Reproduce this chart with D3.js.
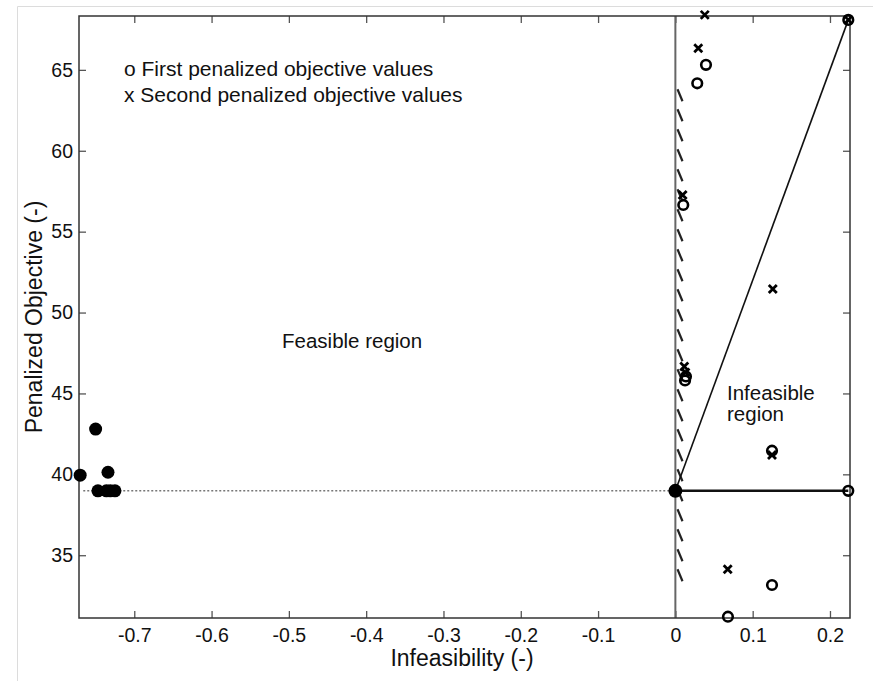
<!DOCTYPE html>
<html>
<head>
<meta charset="utf-8">
<script src="https://cdn.jsdelivr.net/npm/d3@7"></script>
<style>
  body { margin: 0; background: #fff; }
  text { font-family: "Liberation Sans", Arial, sans-serif; fill: #111; }
</style>
</head>
<body>
<div class="chart"></div>
<script>
// data
var feasX = [-0.770, -0.750, -0.734, -0.747, -0.736, -0.731, -0.725];
var feasY = [39.95, 42.80, 40.13, 38.98, 38.98, 38.98, 38.98];

var firstX = [0.0396, 0.0283, 0.0102, 0.0137, 0.0125, 0.125, 0.125, 0.068, 0.2237, 0.2237];
var firstY = [65.31, 64.17, 56.65, 46.05, 45.80, 41.46, 33.16, 31.20, 38.98, 68.09];

var secondX = [0.038, 0.0296, 0.0094, 0.0115, 0.0130, 0.126, 0.125, 0.0677, 0.2237];
var secondY = [68.40, 66.34, 57.27, 46.66, 46.30, 51.46, 41.20, 34.13, 68.09];

var pivot = [0, 38.98];
var corner = [0.2237, 68.09];
var hatchX = 0.006;
var hatchY = [33.8, 63.8];

var xTicks = [-0.7, -0.6, -0.5, -0.4, -0.3, -0.2, -0.1, 0, 0.1, 0.2];
var yTicks = [35, 40, 45, 50, 55, 60, 65];
var xDomain = [-0.7715, 0.2259];
var yDomain = [31.12, 68.33];

// size
var svgWidth = 873;
var svgHeight = 681;
var margin = { top: 16, bottom: 63, right: 23, left: 79 };
var width = svgWidth - margin.left - margin.right;
var height = svgHeight - margin.top - margin.bottom;

var svg = d3.select('.chart')
  .append('svg')
  .attr('width', svgWidth)
  .attr('height', svgHeight);

// light frame around the figure
svg.append('path')
  .attr('d', 'M17.5,' + svgHeight + 'V6.5H' + svgWidth)
  .attr('fill', 'none')
  .attr('stroke', '#dcdcdc')
  .attr('stroke-width', 1);

var chart = svg.append('g')
  .attr('transform', `translate(${margin.left}, ${margin.top})`);

var x = d3.scaleLinear().domain(xDomain).range([0, width]);
var y = d3.scaleLinear().domain(yDomain).range([height, 0]);

// plain hyphen minus like the original
var fmt = function(d) { return d === 0 ? '0' : d.toFixed(1); };

// axes, ticks pointing inward
function styleAxis(g) {
  g.select('.domain').remove();
  g.selectAll('line').attr('stroke', '#555').attr('stroke-width', 1.3);
  g.selectAll('text').style('font-size', '19.5px').attr('fill', '#111')
    .style('font-family', '"Liberation Sans", Arial, sans-serif');
}

chart.append('g')
  .attr('transform', `translate(0, ${height})`)
  .call(d3.axisBottom(x).tickValues(xTicks).tickFormat(fmt).tickSizeInner(-7).tickSizeOuter(0).tickPadding(10))
  .call(styleAxis);

chart.append('g')
  .call(d3.axisTop(x).tickValues(xTicks).tickFormat('').tickSizeInner(-7).tickSizeOuter(0))
  .call(styleAxis);

chart.append('g')
  .call(d3.axisLeft(y).tickValues(yTicks).tickSizeInner(-7).tickSizeOuter(0).tickPadding(6))
  .call(styleAxis);

chart.append('g')
  .attr('transform', `translate(${width}, 0)`)
  .call(d3.axisRight(y).tickValues(yTicks).tickFormat('').tickSizeInner(-7).tickSizeOuter(0))
  .call(styleAxis);

// zero infeasibility line
chart.append('line')
  .attr('x1', x(0)).attr('x2', x(0))
  .attr('y1', 0).attr('y2', height)
  .attr('stroke', '#666')
  .attr('stroke-width', 2);

// hatched constraint boundary
var hatch = d3.range(y(hatchY[1]), y(hatchY[0]), 20);
chart.selectAll('.hatch')
  .data(hatch)
  .enter()
  .append('line')
  .attr('class', 'hatch')
  .attr('x1', x(hatchX) - 2.5)
  .attr('x2', x(hatchX) + 2.5)
  .attr('y1', function(d) { return d; })
  .attr('y2', function(d) { return d + 12; })
  .attr('stroke', '#222')
  .attr('stroke-width', 2.2);

// dotted level through feasible cluster
chart.append('line')
  .attr('x1', x(-0.766)).attr('x2', x(0))
  .attr('y1', y(pivot[1])).attr('y2', y(pivot[1]))
  .attr('stroke', '#777')
  .attr('stroke-width', 1.5)
  .attr('stroke-dasharray', '2,2');

// solid horizontal and diagonal lines
chart.append('line')
  .attr('x1', x(pivot[0])).attr('x2', x(firstX[8]))
  .attr('y1', y(pivot[1])).attr('y2', y(firstY[8]))
  .attr('stroke', '#111')
  .attr('stroke-width', 2.5);

chart.append('line')
  .attr('x1', x(pivot[0])).attr('x2', x(corner[0]))
  .attr('y1', y(pivot[1])).attr('y2', y(corner[1]))
  .attr('stroke', '#111')
  .attr('stroke-width', 1.6);

// box
chart.append('rect')
  .attr('width', width)
  .attr('height', height)
  .attr('fill', 'none')
  .attr('stroke', '#333')
  .attr('stroke-width', 1.5);

// feasible filled dots
chart.selectAll('.feas')
  .data(feasX)
  .enter()
  .append('circle')
  .attr('class', 'feas')
  .attr('cx', function(d) { return x(d); })
  .attr('cy', function(d, i) { return y(feasY[i]); })
  .attr('r', 6.5)
  .attr('fill', '#000');

chart.append('circle')
  .attr('cx', x(pivot[0]))
  .attr('cy', y(pivot[1]))
  .attr('r', 7)
  .attr('fill', '#000');

// first penalized values (o)
chart.selectAll('.first')
  .data(firstX)
  .enter()
  .append('circle')
  .attr('class', 'first')
  .attr('cx', function(d) { return x(d); })
  .attr('cy', function(d, i) { return y(firstY[i]); })
  .attr('r', 4.8)
  .attr('fill', 'none')
  .attr('stroke', '#000')
  .attr('stroke-width', 2.6);

// second penalized values (x)
var s = 4;
chart.selectAll('.second')
  .data(secondX)
  .enter()
  .append('path')
  .attr('class', 'second')
  .attr('d', function(d, i) {
    var cx = x(d), cy = y(secondY[i]);
    return 'M' + (cx - s) + ',' + (cy - s) + 'L' + (cx + s) + ',' + (cy + s) +
      'M' + (cx - s) + ',' + (cy + s) + 'L' + (cx + s) + ',' + (cy - s);
  })
  .attr('stroke', '#000')
  .attr('stroke-width', 2.8)
  .attr('fill', 'none');

// legend
chart.append('text')
  .attr('x', 124 - margin.left)
  .attr('y', 76 - margin.top)
  .style('font-size', '21px')
  .text('o First penalized objective values');

chart.append('text')
  .attr('x', 124 - margin.left)
  .attr('y', 102 - margin.top)
  .style('font-size', '21px')
  .text('x Second penalized objective values');

// region labels
chart.append('text')
  .attr('x', 282 - margin.left)
  .attr('y', 348 - margin.top)
  .style('font-size', '20.5px')
  .text('Feasible region');

chart.append('text')
  .attr('x', 727 - margin.left)
  .attr('y', 400 - margin.top)
  .style('font-size', '20.5px')
  .text('Infeasible');

chart.append('text')
  .attr('x', 727 - margin.left)
  .attr('y', 421 - margin.top)
  .style('font-size', '20.5px')
  .text('region');

// axis labels
chart.append('text')
  .attr('x', 462 - margin.left)
  .attr('y', 666 - margin.top)
  .attr('text-anchor', 'middle')
  .style('font-size', '23px')
  .text('Infeasibility (-)');

chart.append('text')
  .attr('transform', 'rotate(-90)')
  .attr('x', -(317 - margin.top))
  .attr('y', 42 - margin.left)
  .attr('text-anchor', 'middle')
  .style('font-size', '23px')
  .text('Penalized Objective (-)');
</script>
</body>
</html>
